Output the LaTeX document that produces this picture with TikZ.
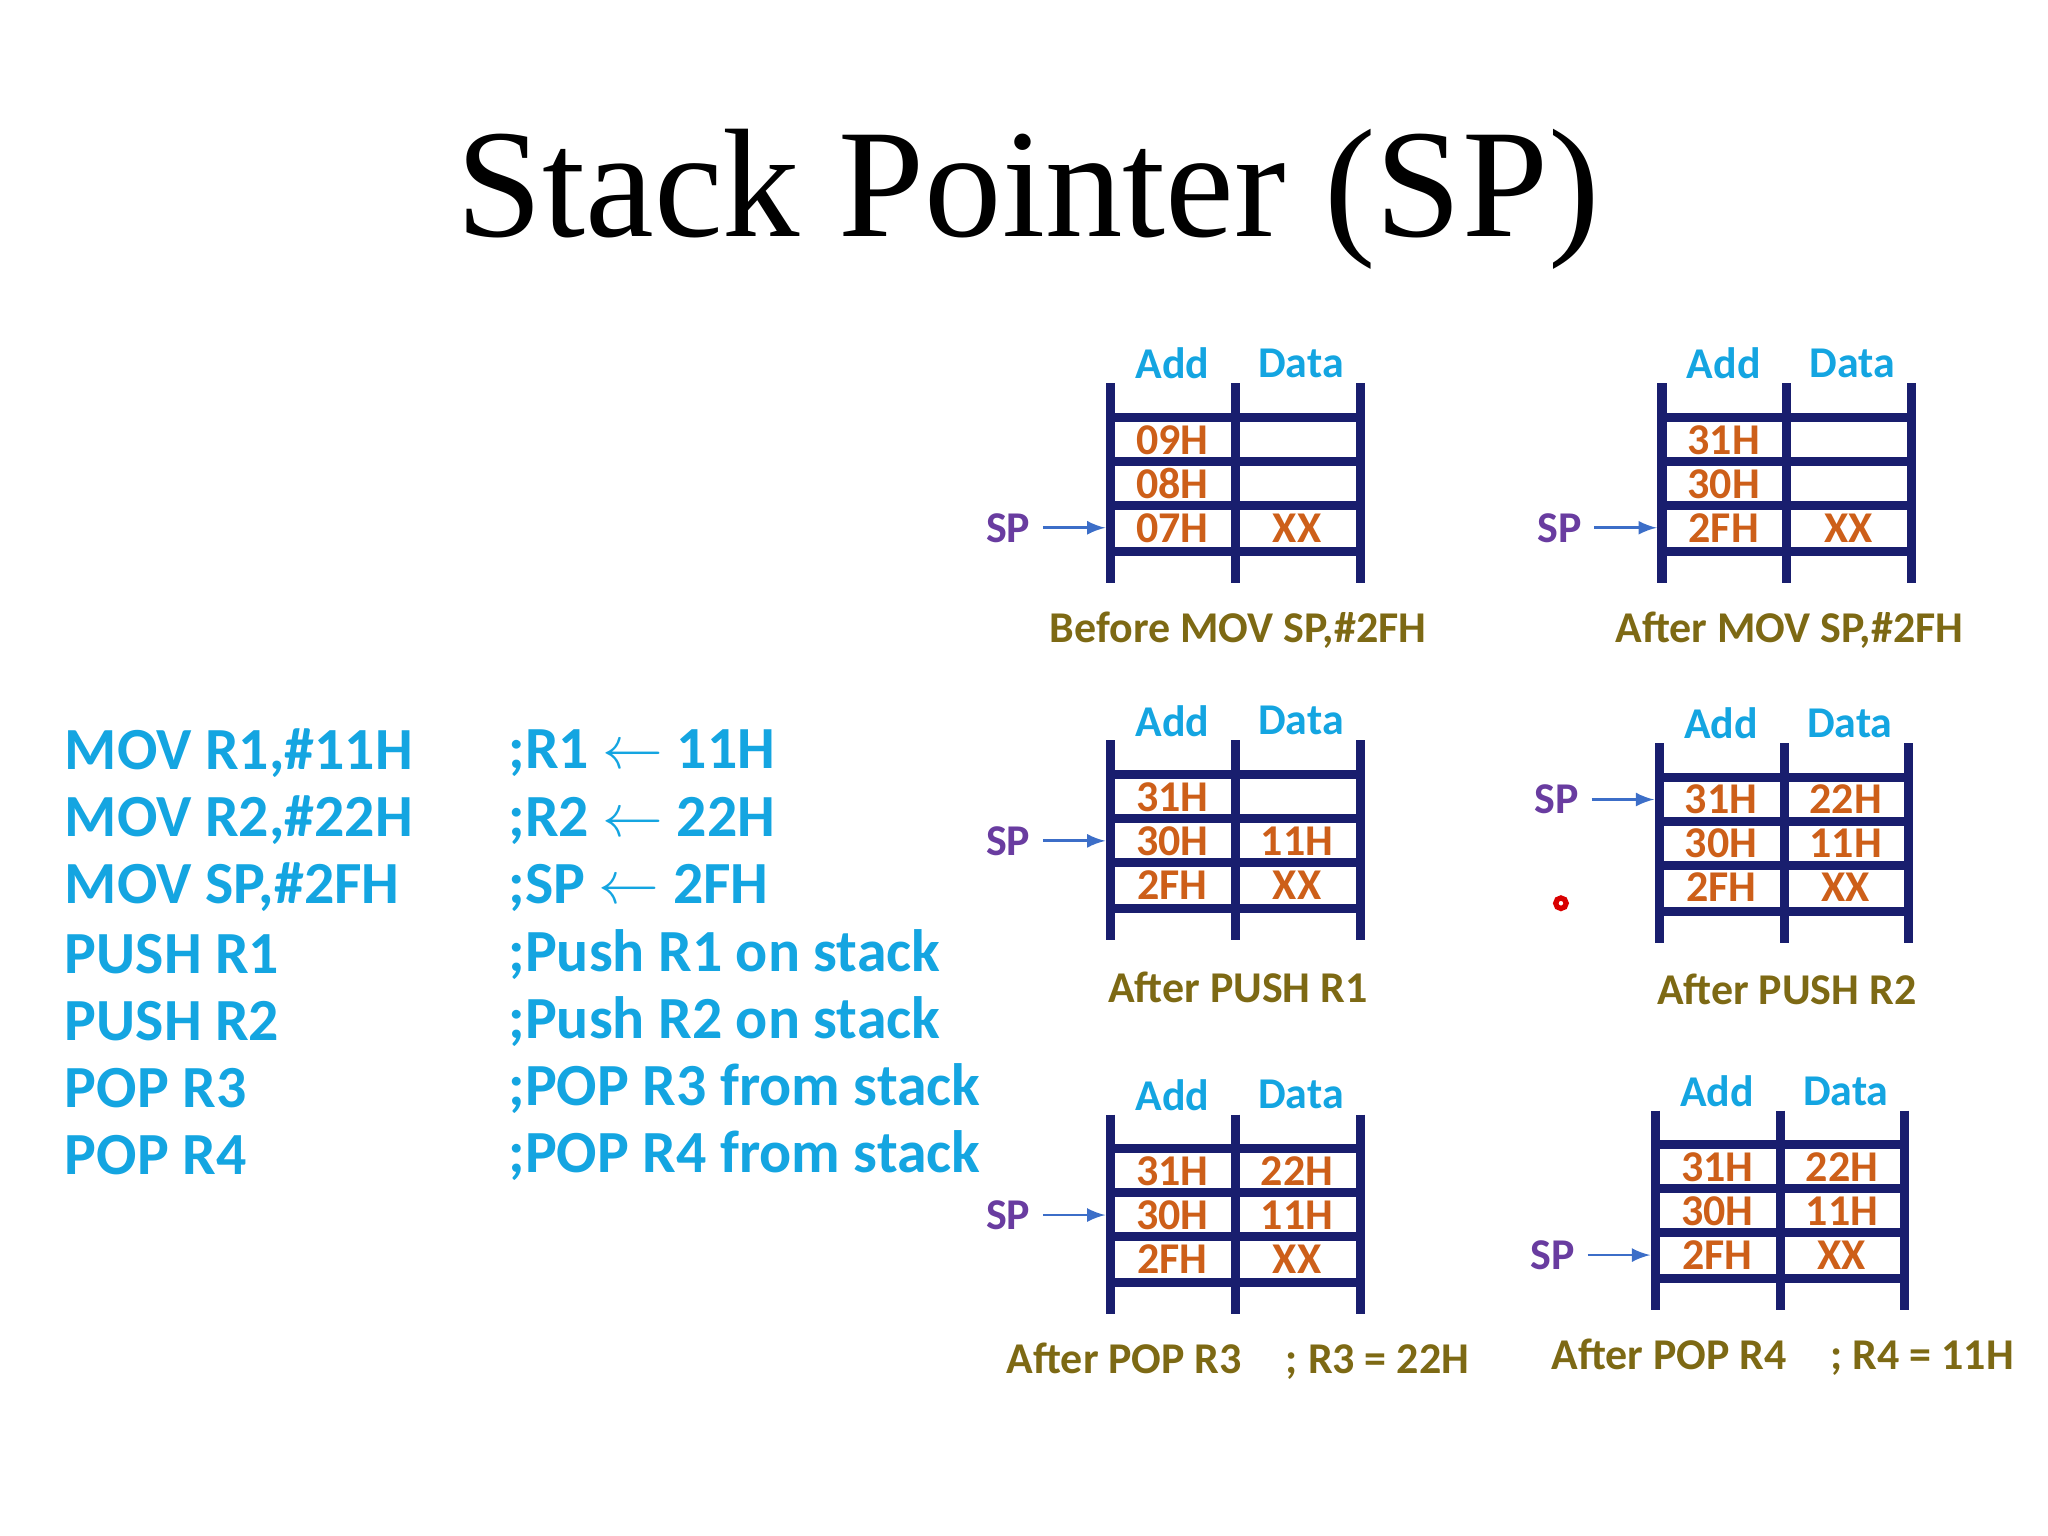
\documentclass[tikz,border=0pt]{standalone}
\usepackage{fontspec}
\setmainfont{Liberation Serif}
\newfontfamily\stkfont{Carlito}
\definecolor{addc}{RGB}{20,165,225}
\definecolor{valc}{RGB}{205,95,25}
\definecolor{spc}{RGB}{105,60,160}
\definecolor{ptrc}{RGB}{60,110,200}
\definecolor{capc}{RGB}{125,105,20}
\definecolor{stkc}{RGB}{25,30,110}
\tikzset{
  stk/.style={line width=2.6pt, stkc},
  hdr/.style={font=\stkfont\bfseries\fontsize{12.5}{14}\selectfont, text=addc},
  val/.style={font=\stkfont\bfseries\fontsize{12.5}{14}\selectfont, text=valc, inner sep=0pt},
  sp/.style={font=\stkfont\bfseries\fontsize{12.5}{14}\selectfont, text=spc},
  ptr/.style={-latex, thick, ptrc},
  stkcap/.style={font=\stkfont\bfseries\fontsize{12.5}{14}\selectfont, text=capc},
  code/.style={font=\stkfont\bfseries\fontsize{17}{20}\selectfont, text=addc, anchor=west}
}
% one stack drawing: name, x, y, rows, SP row, caption
\newcommand{\stackbox}[6]{%
  \begin{scope}[shift={(#2,#3)}]
    \draw[stk] (0,0) -- (0,152) (95,0) -- (95,152) (190,0) -- (190,152);
    \foreach \yy in {26,59.5,93,128} \draw[stk] (0,\yy) -- (190,\yy);
    \node[hdr] (#1-add) at (47,-15) {Add};
    \node[hdr] (#1-data) at (145,-15) {Data};
    \foreach \a/\d [count=\i] in {#4} {
      \node[val] (#1-a\i) at (47,9.5+33.5*\i) {\a};
      \node[val] (#1-d\i) at (142,9.5+33.5*\i) {\d};
    }
    \node[sp] (#1-sp) at (-78,9.5+33.5*#5) {SP};
    \coordinate (#1-tip) at (-4,9.5+33.5*#5);
    \draw[ptr] (#1-sp) -- (#1-tip);
    \node[stkcap] (#1-cap) at (97,188) {#6};
  \end{scope}}
\begin{document}
\begin{tikzpicture}[x=0.01313cm, y=-0.01313cm]
  \useasboundingbox (0,0) rectangle (1560,1170);
  % Titolo
  \node[font=\fontsize{44}{50}\selectfont] (title) at (783,152) {Stack Pointer (SP)};

  % Codice
  \foreach \t/\c [count=\i] in {{MOV R1,\#11H}/{;R1 \ensuremath{\leftarrow} 11H},
      {MOV R2,\#22H}/{;R2 \ensuremath{\leftarrow} 22H},
      {MOV SP,\#2FH}/{;SP \ensuremath{\leftarrow} 2FH},
      PUSH R1/;Push R1 on stack, PUSH R2/;Push R2 on stack,
      POP R3/;POP R3 from stack, POP R4/;POP R4 from stack} {
    \node[code] (ins\i) at (40,523+51*\i) {\t};
    \node[code] (com\i) at (378,523+51*\i) {\c};
  }

  % Stack
  \stackbox{s1}{846}{292}{09H/{},08H/{},07H/XX}{3}{Before MOV SP,\#2FH}
  \stackbox{s2}{1266}{292}{31H/{},30H/{},2FH/XX}{3}{After MOV SP,\#2FH}
  \stackbox{s3}{846}{564}{31H/{},30H/11H,2FH/XX}{2}{After PUSH R1}
  \stackbox{s4}{1264}{566}{31H/22H,30H/11H,2FH/XX}{1}{After PUSH R2}
  \stackbox{s5}{846}{849}{31H/22H,30H/11H,2FH/XX}{2}{After POP R3\quad ; R3 = 22H}
  \stackbox{s6}{1261}{846}{31H/22H,30H/11H,2FH/XX}{3}{After POP R4\quad ; R4 = 11H}

  % puntatore
  \draw[red!85!black, line width=1.5pt] (1189,688) circle (4);
\end{tikzpicture}
\end{document}
